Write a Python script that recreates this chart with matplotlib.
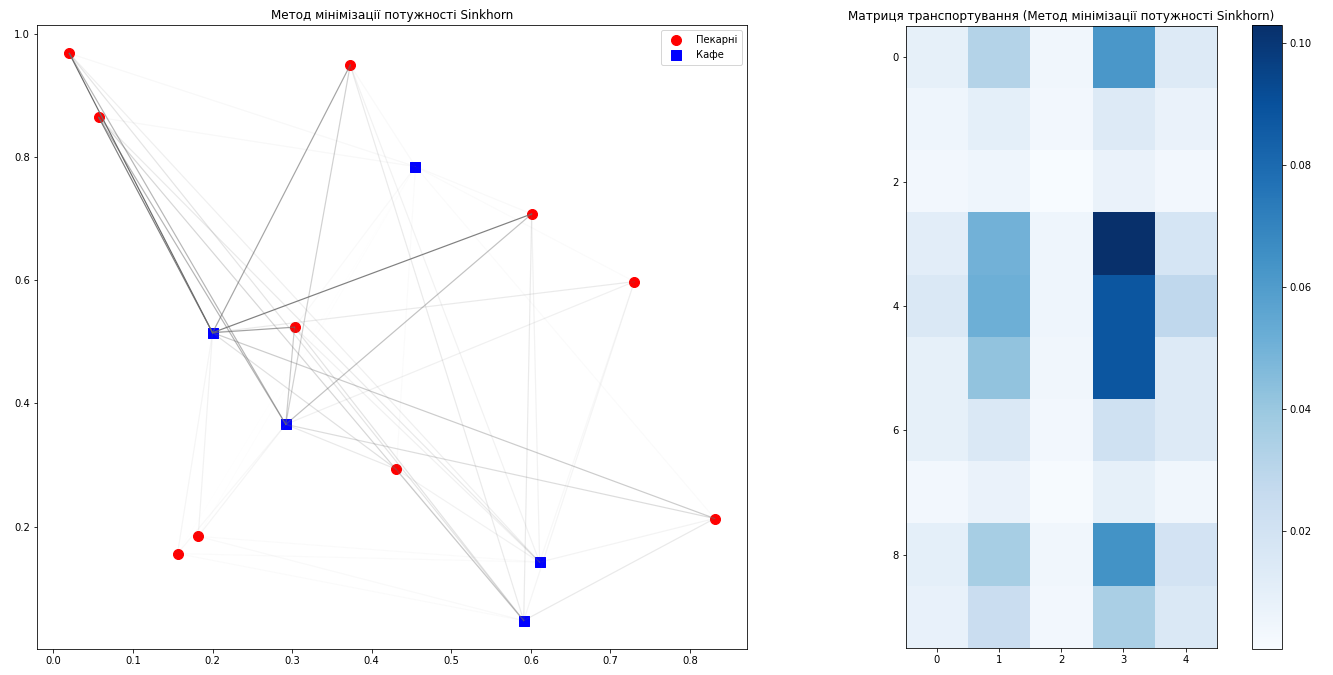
import numpy as np
import matplotlib
matplotlib.use("Agg")
import matplotlib.pyplot as plt

# Координати пекарень (x, y)
bakery_x = [0.373, 0.730, 0.156, 0.020, 0.057, 0.601, 0.431, 0.182, 0.303, 0.831]
bakery_y = [0.950, 0.598, 0.156, 0.969, 0.865, 0.708, 0.293, 0.184, 0.524, 0.213]

# Координати кафе (x, y)
cafe_x = [0.611, 0.292, 0.455, 0.200, 0.591]
cafe_y = [0.142, 0.366, 0.785, 0.515, 0.047]

# Матриця транспортування (10 пекарень x 5 кафе)
plan_rows = [
    [0.009, 0.032, 0.004, 0.062, 0.014],
    [0.005, 0.010, 0.003, 0.014, 0.007],
    [0.003, 0.005, 0.0006, 0.007, 0.003],
    [0.011, 0.050, 0.005, 0.1029, 0.018],
    [0.015, 0.051, 0.005, 0.088, 0.028],
    [0.009, 0.042, 0.004, 0.088, 0.014],
    [0.009, 0.015, 0.003, 0.021, 0.014],
    [0.003, 0.007, 0.001, 0.009, 0.004],
    [0.010, 0.036, 0.004, 0.064, 0.019],
    [0.008, 0.024, 0.003, 0.035, 0.015],
]

title_left = "Метод мінімізації потужності Sinkhorn"
title_right = "Матриця транспортування (Метод мінімізації потужності Sinkhorn)"


def main():
    G = np.array(plan_rows)
    W, H = 1333, 675
    fig = plt.figure(figsize=(W / 72, H / 72), dpi=72)

    # ліва панель: точки та зв'язки
    ax1 = fig.add_axes([37 / W, 26 / H, 710 / W, 624 / H])
    ax1.scatter(bakery_x, bakery_y, c='red', s=100, marker='o', label='Пекарні')
    ax1.scatter(cafe_x, cafe_y, c='blue', s=100, marker='s', label='Кафе')
    mx = G.max()
    for i in range(len(bakery_x)):
        for j in range(len(cafe_x)):
            ax1.plot([bakery_x[i], cafe_x[j]], [bakery_y[i], cafe_y[j]],
                     color=[.42, .42, .42], alpha=G[i, j] / mx, linewidth=1.2)
    ax1.set_title(title_left)
    ax1.legend(loc='upper right', borderpad=0.5, handletextpad=1.0)

    # права панель: теплова карта
    ax2 = fig.add_axes([905.7 / W, 26 / H, 311 / W, 624 / H])
    im = ax2.imshow(G, cmap='Blues', interpolation='nearest')
    ax2.set_title(title_right)
    cax = fig.add_axes([1251.7 / W, 26 / H, 30.6 / W, 624 / H])
    fig.colorbar(im, cax=cax)

    fig.savefig("out.png", dpi=72)


if __name__ == "__main__":
    main()
